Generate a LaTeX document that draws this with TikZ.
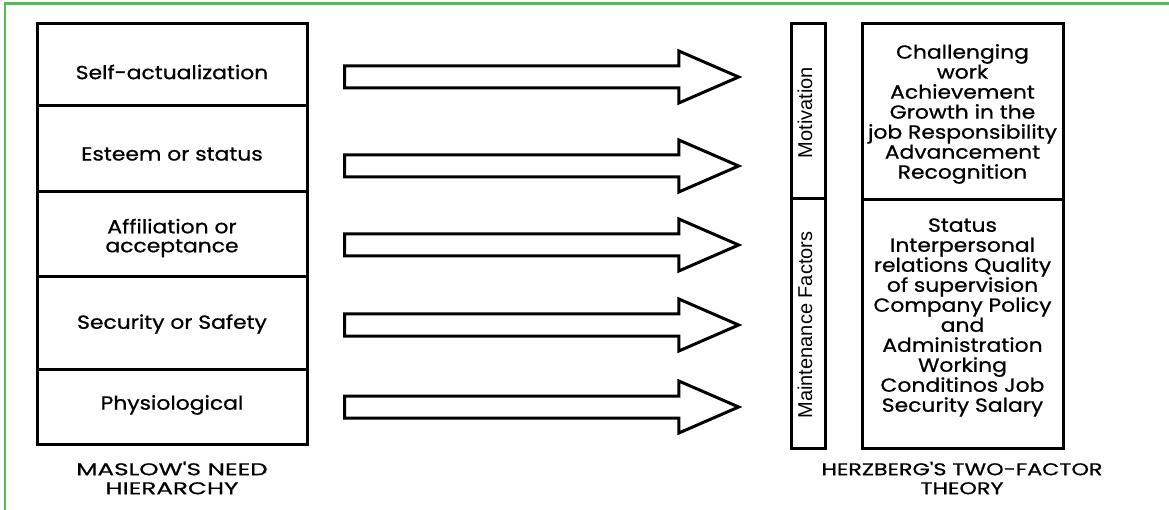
\documentclass[tikz,border=0pt]{standalone}
\usepackage{fontspec}
\setmainfont{Poppins}[FakeStretch=1.15,FakeBold=0.8]
\newfontfamily\capA{Poppins}[FakeStretch=1.45,FakeBold=0.8]
\newfontfamily\capB{Poppins}[FakeStretch=1.31,FakeBold=0.8]
\newfontfamily\vfont{Liberation Sans}
\usetikzlibrary{shapes.arrows}
\definecolor{framegreen}{RGB}{80,190,80}
\begin{document}
\begin{tikzpicture}[x=1pt,y=-1pt,
  box/.style={draw=black,line width=3pt,minimum width=270pt,inner sep=0pt},
  vbox/.style={draw=black,line width=3pt,minimum width=34pt,inner sep=0pt},
  rbox/.style={draw=black,line width=3pt,minimum width=201pt,inner sep=0pt},
  txt/.style={align=center,font=\fontsize{19}{19}\selectfont,inner sep=0pt},
  rtxt/.style={align=center,font=\fontsize{19}{20}\selectfont,inner sep=0pt},
  vtxt/.style={align=center,font=\vfont\fontsize{20}{20}\selectfont,inner sep=0pt,rotate=90},
  capa/.style={align=center,font=\capA\fontsize{17}{19}\selectfont,inner sep=0pt},
  capb/.style={align=center,font=\capB\fontsize{17}{19}\selectfont,inner sep=0pt},
  barrow/.style={draw=black,line width=3pt,single arrow,minimum height=394pt,inner xsep=0pt,inner ysep=9.5pt,single arrow head extend=15pt,single arrow head indent=0pt,single arrow tip angle=47}
]
\useasboundingbox (0,0) rectangle (1169,510);
\draw[framegreen,line width=2.5pt] (5,520) -- (5,3.5) -- (1180,3.5);
% Maslow boxes
\node[box,minimum height=82pt] (m1) at (172,65) {};
\node[box,minimum height=86pt] (m2) at (172,149) {};
\node[box,minimum height=85pt] (m3) at (172,234.5) {};
\node[box,minimum height=92pt] (m4) at (172,323) {};
\node[box,minimum height=75pt] (m5) at (172,406.5) {};
\node[txt] (t1) at (172,72) {Self-actualization};
\node[txt] (t2) at (172,154) {Esteem or status};
\node[txt] (t3) at (172,238) {Affiliation or\\acceptance};
\node[txt] (t4) at (172,324) {Security or Safety};
\node[txt] (t5) at (172,405) {Physiological};
\node[capa] (c1) at (172,478) {MASLOW'S NEED\\HIERARCHY};
% arrows
\node[barrow] (a1) at (529,77) {};
\node[barrow] (a2) at (529,166) {};
\node[barrow] (a3) at (529,245) {};
\node[barrow] (a4) at (529,325) {};
\node[barrow] (a5) at (529,407) {};
% Herzberg
\node[vbox,minimum height=175pt] (v1) at (808,111.5) {};
\node[vbox,minimum height=249pt] (v2) at (808,323.5) {};
\node[vtxt] (vt1) at (805,112.5) {Motivation};
\node[vtxt] (vt2) at (805,325) {Maintenance Factors};
\node[rbox,minimum height=176pt] (h1) at (962.5,112) {};
\node[rbox,minimum height=248pt] (h2) at (962.5,324) {};
\node[rtxt] (ht1) at (962.5,114) {Challenging\\work\\Achievement\\Growth in the\\job Responsibility\\Advancement\\Recognition};
\node[rtxt] (ht2) at (962.5,317.5) {Status\\Interpersonal\\relations Quality\\of supervision\\Company Policy\\and\\Administration\\Working\\Conditinos Job\\Security Salary};
\node[capb] (c2) at (962,478) {HERZBERG'S TWO-FACTOR\\THEORY};
\end{tikzpicture}
\end{document}
